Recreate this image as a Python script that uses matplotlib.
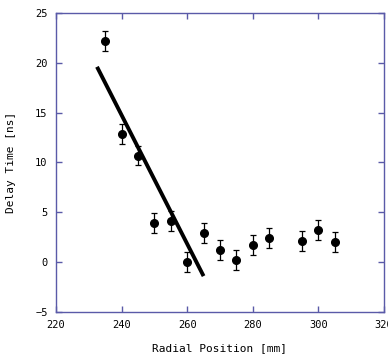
import matplotlib
matplotlib.use("Agg")
import matplotlib.pyplot as plt

# measured points
radial_mm = [235, 240, 245, 250, 255, 260, 265, 270, 275, 280, 285, 295, 300, 305]
delay_ns = [22.2, 12.9, 10.7, 3.9, 4.1, 0.0, 2.9, 1.2, 0.2, 1.7, 2.4, 2.1, 3.2, 2.0]
delay_err = [1.0] * len(radial_mm)

# fitted line end points
fit_x = [232.5, 265.0]
fit_y = [19.6, -1.4]

_AXIS = "#5a5aa8"
_FONT = "DejaVu Sans Mono"

fig = plt.figure(figsize=(3.88, 3.58), dpi=100)
ax = fig.add_axes([56 / 388, 1 - 312 / 358, 328 / 388, 299 / 358])

ax.plot(fit_x, fit_y, color="black", linewidth=2.8, solid_capstyle="butt")
ax.errorbar(radial_mm, delay_ns, yerr=delay_err, fmt="o", color="black",
            markersize=5.5, elinewidth=0.9, capsize=2, capthick=0.9)

ax.set_xlim(220, 320)
ax.set_ylim(-5, 25)
ax.set_xticks(range(220, 321, 20))
ax.set_yticks(range(-5, 26, 5))

for spine in ax.spines.values():
    spine.set_color(_AXIS)
    spine.set_linewidth(1.0)
ax.tick_params(direction="in", top=True, right=True, color=_AXIS,
               length=4, width=1.0, labelsize=7.5, pad=6)
for lbl in ax.get_xticklabels() + ax.get_yticklabels():
    lbl.set_fontfamily(_FONT)

ax.set_xlabel("Radial Position [mm]", fontsize=8, family=_FONT, labelpad=9)
ax.set_ylabel("Delay Time [ns]", fontsize=8, family=_FONT, labelpad=14)

fig.savefig("out.png", dpi=100)
